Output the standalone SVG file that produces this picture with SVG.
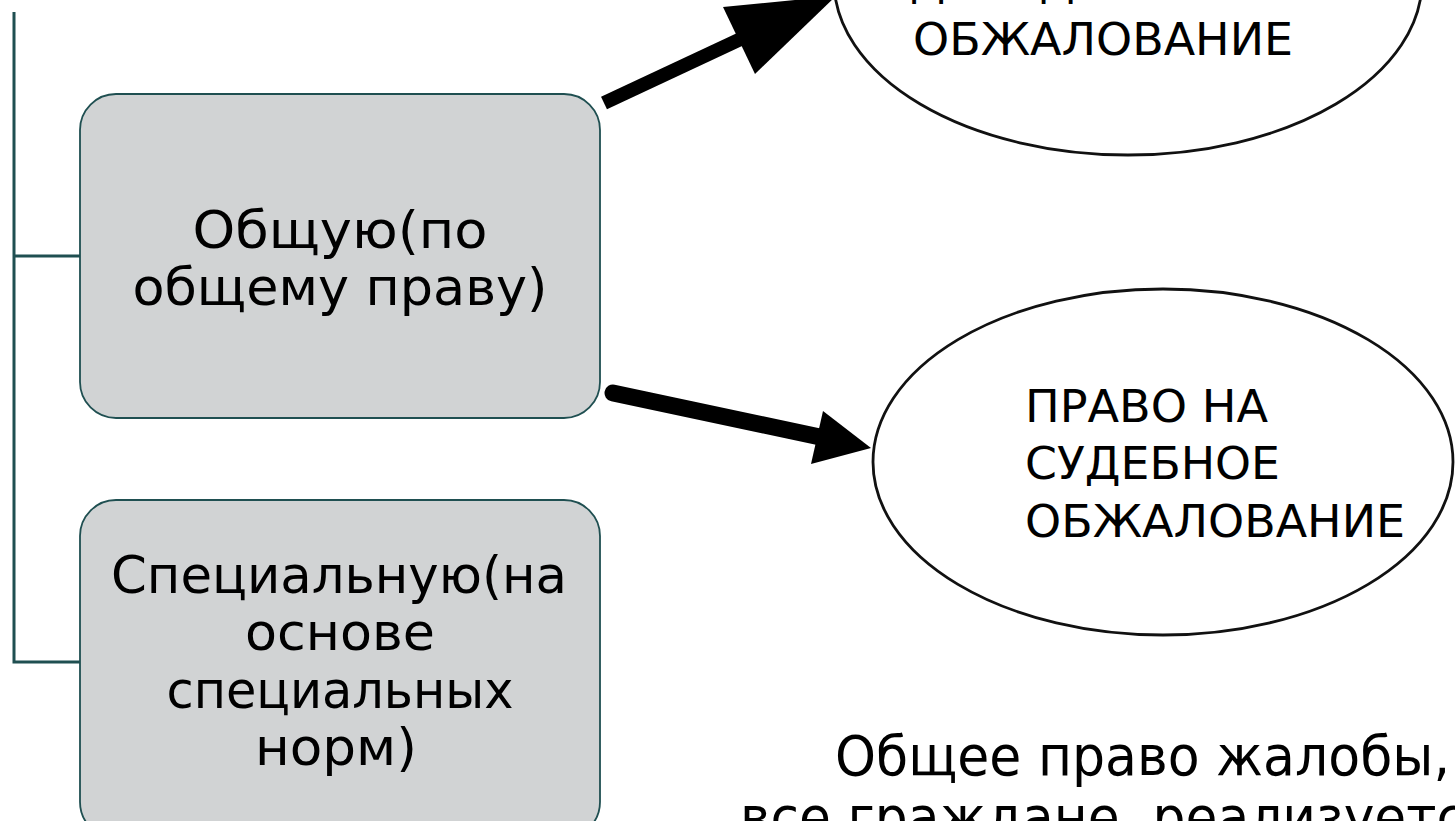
<svg xmlns="http://www.w3.org/2000/svg" width="1455" height="821" viewBox="0 0 1455 821">
<style>
.tree{stroke:#1f4f51;stroke-width:3;fill:none}
.box{fill:#d1d3d4;stroke:#1f4f51;stroke-width:1.8}
.ell{fill:#ffffff;stroke:#111111;stroke-width:2.8}
.t{font-family:"DejaVu Sans","Liberation Sans",sans-serif;fill:#000000}
.bt{font-size:52px;text-anchor:middle}
.et{font-size:44px}
.ft{font-size:55px}
.shaft{stroke:#000000;fill:none}
.head{fill:#000000}
</style>
<rect width="1455" height="821" fill="#ffffff"/>
<g id="connectors">
<path class="tree" d="M14,12 V662 H80 M14,256 H80"/>
<line class="shaft" x1="604" y1="103" x2="745" y2="37" stroke-width="14" stroke-linecap="butt"/>
<polygon class="head" points="723,7 755,74 836,-4"/>
<line class="shaft" x1="613" y1="393" x2="820" y2="437" stroke-width="17" stroke-linecap="round"/>
<polygon class="head" points="823,411 811,464 871,448"/>
</g>
<g id="node-general">
<rect class="box" x="80" y="94" width="520" height="324" rx="36" ry="36"/>
<text class="t bt" x="340" y="248" textLength="295" lengthAdjust="spacingAndGlyphs">Общую(по</text>
<text class="t bt" x="340" y="305" textLength="415" lengthAdjust="spacingAndGlyphs">общему праву)</text>
</g>
<g id="node-special">
<rect class="box" x="80" y="500" width="520" height="338" rx="36" ry="36"/>
<text class="t bt" x="339" y="593" textLength="456" lengthAdjust="spacingAndGlyphs">Специальную(на</text>
<text class="t bt" x="340" y="650" textLength="190" lengthAdjust="spacingAndGlyphs">основе</text>
<text class="t bt" x="340" y="708" textLength="347" lengthAdjust="spacingAndGlyphs">специальных</text>
<text class="t bt" x="336" y="765" textLength="162" lengthAdjust="spacingAndGlyphs">норм)</text>
</g>
<g id="node-pretrial">
<ellipse class="ell" cx="1128" cy="-19" rx="294" ry="174"/>
<text class="t et" x="910" y="-3" textLength="322" lengthAdjust="spacingAndGlyphs">ДОСУДЕБНОЕ</text>
<text class="t et" x="913" y="55" textLength="380" lengthAdjust="spacingAndGlyphs">ОБЖАЛОВАНИЕ</text>
</g>
<g id="node-judicial">
<ellipse class="ell" cx="1163" cy="462" rx="290" ry="173"/>
<text class="t et" x="1025" y="422" textLength="243" lengthAdjust="spacingAndGlyphs">ПРАВО НА</text>
<text class="t et" x="1025" y="479" textLength="255" lengthAdjust="spacingAndGlyphs">СУДЕБНОЕ</text>
<text class="t et" x="1025" y="537" textLength="380" lengthAdjust="spacingAndGlyphs">ОБЖАЛОВАНИЕ</text>
</g>
<g id="note">
<text class="t ft" x="835" y="775" textLength="615" lengthAdjust="spacingAndGlyphs">Общее право жалобы,</text>
<text class="t ft" x="740" y="836" textLength="725" lengthAdjust="spacingAndGlyphs">все граждане, реализуетс</text>
</g>
</svg>
